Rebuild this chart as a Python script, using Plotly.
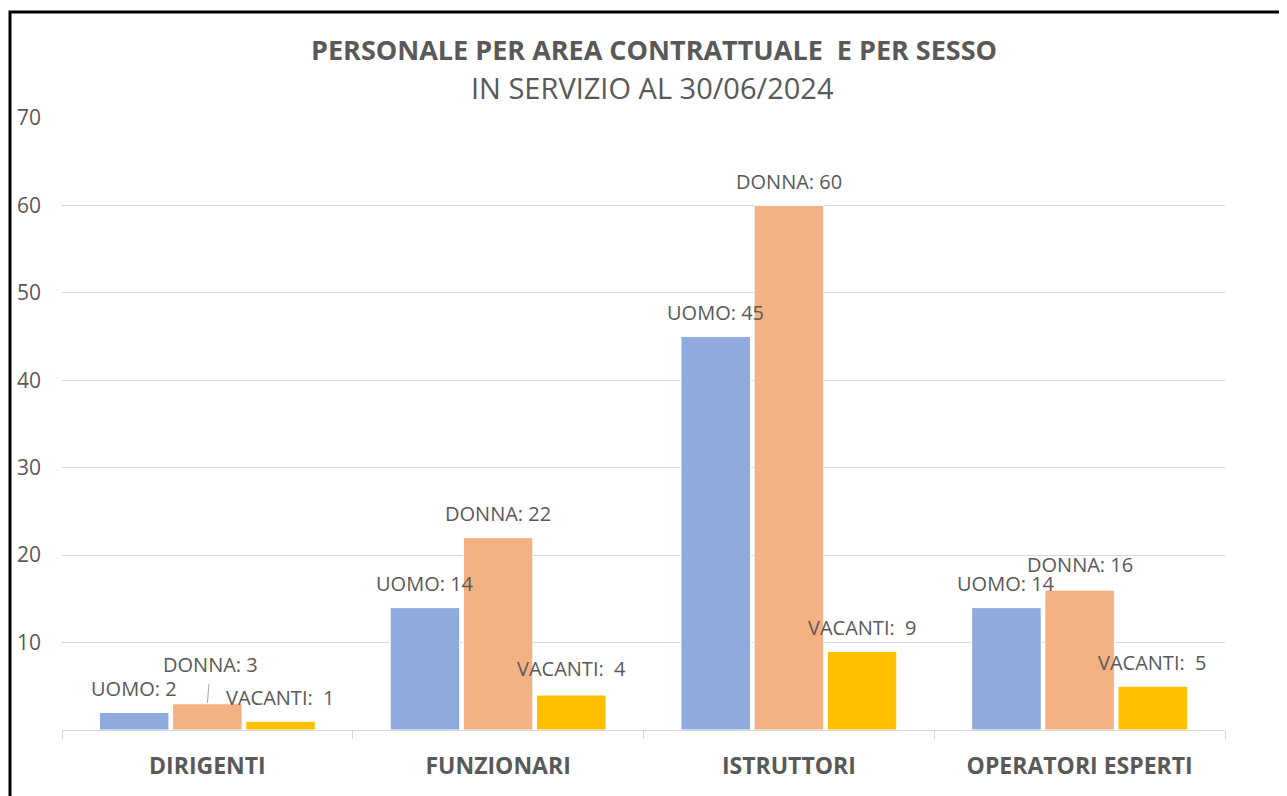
import plotly.graph_objects as go

# dati
aree = ["DIRIGENTI", "FUNZIONARI", "ISTRUTTORI", "OPERATORI ESPERTI"]
uomo = [2, 14, 45, 14]
donna = [3, 22, 60, 16]
vacanti = [1, 4, 9, 5]
y_ticks = [10, 20, 30, 40, 50, 60, 70]

# la pagina ha 8px di margine: la figura sta dentro 1279x788
OFF = 8
W, H = 1287 - OFF, 796 - OFF
ml, mt = 62 - OFF, 118 - OFF
pw, ph = 1163, 612
mr = W - ml - pw
mb = H - mt - ph
bargap = 0.245
slot = pw / len(aree) * (1 - bargap) / 3

grey = "#595959"
font = "Open Sans"


def py(page_y):
    # coordinata verticale della pagina -> paper
    return (mt + ph - (page_y - OFF)) / ph


def px(page_x):
    return (page_x - OFF - ml) / pw


fig = go.Figure()
series = [("UOMO", uomo, "#8FAADC"), ("DONNA", donna, "#F4B183"), ("VACANTI", vacanti, "#FFC000")]
for name, vals, col in series:
    fig.add_trace(go.Bar(x=aree, y=vals, name=name, marker_color=col,
                         marker_line_color="white", marker_line_width=1))

# etichette dati
label_sep = {"UOMO": ": ", "DONNA": ": ", "VACANTI": ":  "}
for i, (name, vals, col) in enumerate(series):
    for cat, v in zip(aree, vals):
        ann = dict(x=cat, y=v, xref="x", yref="y", text=f"{name}{label_sep[name]}{v}",
                   showarrow=False, xshift=(i - 1) * slot, yshift=24,
                   font=dict(family=font, size=20, color=grey))
        if name == "DONNA" and cat == "DIRIGENTI":
            ann.update(showarrow=True, yshift=0, ax=3, ay=-39, arrowhead=0,
                       arrowwidth=1, arrowcolor="#A6A6A6", standoff=1, borderpad=5)
        elif name == "VACANTI" and cat == "FUNZIONARI":
            ann.update(yshift=27)
        elif name == "DONNA" and cat == "OPERATORI ESPERTI":
            ann.update(yshift=26)
        fig.add_annotation(**ann)

# titolo
fig.add_annotation(x=px(654), y=py(50), xref="paper", yref="paper", yanchor="middle",
                   text="<b>PERSONALE PER AREA CONTRATTUALE  E PER SESSO</b>", showarrow=False,
                   font=dict(family=font, size=27, color=grey))
fig.add_annotation(x=px(652), y=py(88), xref="paper", yref="paper", yanchor="middle",
                   text="IN SERVIZIO AL 30/06/2024", showarrow=False,
                   font=dict(family=font, size=29, color=grey))

# cornice
fig.add_shape(type="rect", xref="paper", yref="paper",
              x0=px(10), x1=px(1283), y0=py(810), y1=py(12),
              line=dict(color="black", width=3), layer="below")

fig.update_layout(
    width=W, height=H, margin=dict(l=ml, r=mr, t=mt, b=mb, autoexpand=False),
    barmode="group", bargap=bargap, bargroupgap=0.05,
    plot_bgcolor="white", paper_bgcolor="white", showlegend=False,
    font=dict(family=font, color=grey),
)
fig.update_xaxes(range=[-0.5, len(aree) - 0.5], tickson="boundaries", ticks="outside",
                 ticklen=8, tickcolor="#D9D9D9", automargin=False,
                 showline=True, linecolor="#D9D9D9", linewidth=1,
                 tickfont=dict(family=font, size=23, color=grey, weight="bold"),
                 ticklabelstandoff=15)
fig.update_yaxes(range=[0, 70], tickvals=y_ticks, showgrid=True, gridcolor="#D9D9D9",
                 zeroline=False, automargin=False,
                 tickfont=dict(family=font, size=21, color=grey),
                 ticklabelstandoff=20)

fig.write_html("out.html")
